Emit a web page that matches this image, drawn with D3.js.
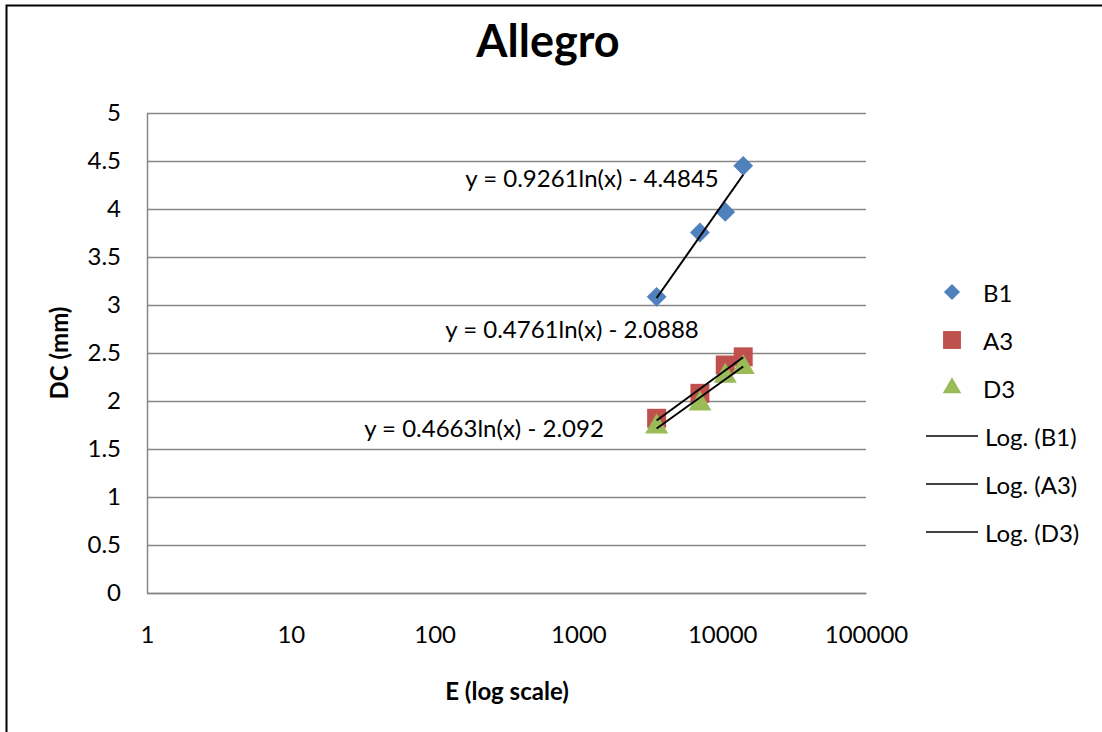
<!DOCTYPE html>
<html>
<head>
<meta charset="utf-8">
<script src="https://cdn.jsdelivr.net/npm/d3@7"></script>
<style>
  body { margin: 0; background: #fff; }
  svg { display: block; font-family: Lato, "Open Sans", sans-serif; }
</style>
</head>
<body>
<div id="chart"></div>
<script>
// data
let seriesNames = ["B1", "A3", "D3"]
let eValues = [3500, 7000, 10500, 14000]
let b1Values = [3.085, 3.755, 3.97, 4.45]
let a3Values = [1.82, 2.08, 2.375, 2.46]
let d3Values = [1.73, 1.97, 2.26, 2.35]
// trendline coefficients: y = a ln(x) + b
let trendA = [0.9261, 0.4761, 0.4663]
let trendB = [-4.4845, -2.0888, -2.092]
let trendLabels = ["y = 0.9261ln(x) - 4.4845", "y = 0.4761ln(x) - 2.0888", "y = 0.4663ln(x) - 2.092"]
let xTicks = [1, 10, 100, 1000, 10000, 100000]
let yTicks = [0, 0.5, 1, 1.5, 2, 2.5, 3, 3.5, 4, 4.5, 5]

let colors = ["#4F81BD", "#C0504D", "#9BBB59"]
let allValues = [b1Values, a3Values, d3Values]

let W = 1102, H = 732
let plot = { left: 147, top: 113, right: 866, bottom: 593 }
let fontSize = "24px"

let svg = d3.select("#chart")
    .append("svg")
    .attr("width", W)
    .attr("height", H)

// outer chart border
svg.append("rect")
    .attr("x", 6.5).attr("y", 5.5)
    .attr("width", W + 10).attr("height", H + 10)
    .attr("fill", "white")
    .attr("stroke", "#000")
    .attr("stroke-width", 2)

let x = d3.scaleLog()
    .domain([1, 100000])
    .range([plot.left, plot.right])

let y = d3.scaleLinear()
    .domain([0, 5])
    .range([plot.bottom, plot.top])

// Y axis with gridlines
let yAxis = svg.append("g")
    .attr("transform", "translate(" + plot.left + ",0)")
    .call(d3.axisLeft(y)
        .tickValues(yTicks)
        .tickFormat(d => String(d))
        .tickSizeInner(-(plot.right - plot.left))
        .tickSizeOuter(0)
        .tickPadding(26))
yAxis.selectAll("line").attr("stroke", "#868686").attr("stroke-width", 1.5)
yAxis.select(".domain").attr("stroke", "#868686").attr("stroke-width", 1.5)
yAxis.selectAll("text")
    .attr("fill", "#000")
    .style("font-size", fontSize)
    .style("font-family", "Lato, sans-serif")

// X axis
let xAxis = svg.append("g")
    .attr("transform", "translate(0," + plot.bottom + ")")
    .call(d3.axisBottom(x)
        .tickValues(xTicks)
        .tickFormat(d3.format("d"))
        .tickSize(0)
        .tickPadding(33))
xAxis.select(".domain").attr("stroke", "#868686").attr("stroke-width", 1.5)
xAxis.selectAll("text")
    .attr("fill", "#000")
    .style("font-size", fontSize)
    .style("font-family", "Lato, sans-serif")

// markers
let symbolTypes = [d3.symbolDiamond2, d3.symbolSquare, d3.symbolTriangle]
let markerSize = [250, 360, 230]

seriesNames.forEach((name, s) => {
    svg.append("g")
        .selectAll("path")
        .data(eValues)
        .enter()
        .append("path")
        .attr("transform", (d, i) => "translate(" + x(d) + "," + y(allValues[s][i]) + ")")
        .attr("d", d3.symbol().type(symbolTypes[s]).size(markerSize[s]))
        .attr("fill", colors[s])
})

// log trendlines (straight on a log x axis)
let xMin = d3.min(eValues), xMax = d3.max(eValues)
seriesNames.forEach((name, s) => {
    let pts = [xMin, xMax].map(e => [x(e), y(trendA[s] * Math.log(e) + trendB[s])])
    svg.append("path")
        .attr("d", d3.line()(pts))
        .attr("stroke", "#000")
        .attr("stroke-width", 2)
        .attr("fill", "none")
})

// equation labels
let labelPos = [[592, 177], [572, 328], [484, 427]]
trendLabels.forEach((t, s) => {
    svg.append("text")
        .attr("x", labelPos[s][0])
        .attr("y", labelPos[s][1])
        .attr("text-anchor", "middle")
        .attr("dominant-baseline", "central")
        .style("font-size", fontSize)
        .text(t)
})

// title
svg.append("text")
    .attr("x", 548).attr("y", 40)
    .attr("text-anchor", "middle")
    .attr("dominant-baseline", "central")
    .style("font-size", "45px")
    .style("font-weight", "bold")
    .text("Allegro")

// axis titles
svg.append("text")
    .attr("x", 507).attr("y", 690)
    .attr("text-anchor", "middle")
    .attr("dominant-baseline", "central")
    .style("font-size", fontSize)
    .style("font-weight", "bold")
    .text("E (log scale)")

svg.append("text")
    .attr("transform", "translate(58,353) rotate(-90)")
    .attr("text-anchor", "middle")
    .attr("dominant-baseline", "central")
    .style("font-size", fontSize)
    .style("font-weight", "bold")
    .text("DC (mm)")

// ---------------------------//
//       LEGEND              //
// ---------------------------//
let legendMarkerSize = [165, 320, 150]
seriesNames.forEach((name, s) => {
    let ly = 292 + s * 48
    svg.append("path")
        .attr("transform", "translate(952," + ly + ")")
        .attr("d", d3.symbol().type(symbolTypes[s]).size(legendMarkerSize[s]))
        .attr("fill", colors[s])
    svg.append("text")
        .attr("x", 983).attr("y", ly)
        .attr("dominant-baseline", "central")
        .style("font-size", fontSize)
        .text(name)
})
seriesNames.forEach((name, s) => {
    let ly = 436 + s * 48
    svg.append("line")
        .attr("x1", 926).attr("x2", 978)
        .attr("y1", ly).attr("y2", ly)
        .attr("stroke", "#000")
        .attr("stroke-width", 1.5)
    svg.append("text")
        .attr("x", 985).attr("y", ly)
        .attr("dominant-baseline", "central")
        .style("font-size", fontSize)
        .text("Log. (" + name + ")")
})
</script>
</body>
</html>
